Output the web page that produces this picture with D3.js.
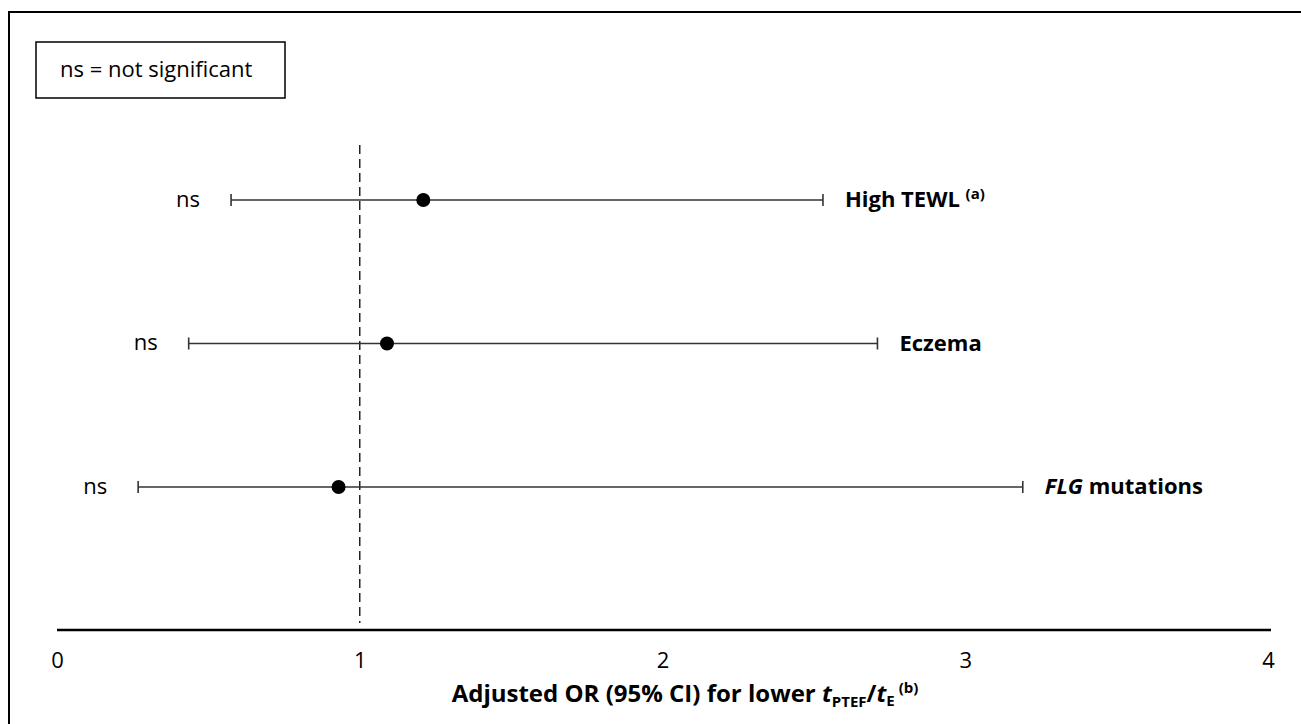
<!DOCTYPE html>
<html>
<head>
<meta charset="utf-8">
<script src="https://cdn.jsdelivr.net/npm/d3@7"></script>
<style>
  body { margin: 0; background: #fff; }
  text { font-family: "Open Sans", sans-serif; fill: #000; }
</style>
</head>
<body>
<script>
// forest plot values
const outcomes = ["High TEWL", "Eczema", "FLG mutations"];
const oddsRatio = [1.21, 1.09, 0.93];
const ciLower = [0.575, 0.435, 0.268];
const ciUpper = [2.53, 2.71, 3.19];
const sigLabels = ["ns", "ns", "ns"];
const tickValues = [0, 1, 2, 3, 4];

const W = 1301, H = 724;

const svg = d3.select("body").append("svg")
  .attr("width", W)
  .attr("height", H);

// outer frame (only top and left sides are in view)
svg.append("path")
  .attr("d", "M9," + H + "V12H" + W)
  .attr("fill", "none")
  .attr("stroke", "#000")
  .attr("stroke-width", 2);

const x = d3.scaleLinear().domain([0, 4]).range([57, 1268]);
const y = d3.scalePoint().domain(outcomes).range([200, 487]);

// x axis
const axis = svg.append("g")
  .attr("transform", "translate(0,630)")
  .call(d3.axisBottom(x).tickValues(tickValues).tickFormat(d3.format("d"))
    .tickSize(0).tickSizeOuter(0).tickPadding(22));
axis.select(".domain").attr("stroke", "#000").attr("stroke-width", 2.5)
  .attr("d", "M" + x(0) + ",0H" + (x(4) + 3));
axis.selectAll("text")
  .attr("font-family", "Open Sans, sans-serif")
  .attr("font-size", 22)
  .attr("fill", "#000");

// reference line at OR = 1
svg.append("line")
  .attr("x1", x(1)).attr("x2", x(1))
  .attr("y1", 145).attr("y2", 623)
  .attr("stroke", "#222")
  .attr("stroke-width", 1.5)
  .attr("stroke-dasharray", "9,5");

const rows = svg.selectAll("g.row")
  .data(outcomes.map((d, i) => ({ name: d, or: oddsRatio[i], lo: ciLower[i], hi: ciUpper[i], sig: sigLabels[i] })))
  .enter().append("g")
  .attr("class", "row")
  .attr("transform", d => "translate(0," + y(d.name) + ")");

// CI line
rows.append("line")
  .attr("x1", d => x(d.lo)).attr("x2", d => x(d.hi))
  .attr("stroke", "#333").attr("stroke-width", 1.6);

// whisker caps
rows.append("line")
  .attr("x1", d => x(d.lo)).attr("x2", d => x(d.lo))
  .attr("y1", -6).attr("y2", 6)
  .attr("stroke", "#333").attr("stroke-width", 1.6);
rows.append("line")
  .attr("x1", d => x(d.hi)).attr("x2", d => x(d.hi))
  .attr("y1", -6).attr("y2", 6)
  .attr("stroke", "#333").attr("stroke-width", 1.6);

// point estimates
rows.append("circle")
  .attr("cx", d => x(d.or))
  .attr("r", 7)
  .attr("fill", "#000");

// significance text
rows.append("text")
  .attr("x", d => x(d.lo) - 31)
  .attr("dy", "0.3em")
  .attr("text-anchor", "end")
  .attr("font-size", 22)
  .text(d => d.sig);

// outcome labels
const lab = rows.append("text")
  .attr("x", d => x(d.hi) + 22)
  .attr("dy", "0.33em")
  .attr("font-size", 22)
  .attr("font-weight", "bold");

lab.each(function (d) {
  const t = d3.select(this);
  if (d.name === "High TEWL") {
    t.append("tspan").text("High TEWL ");
    t.append("tspan").attr("font-size", 15).attr("dy", "-0.55em").text("(a)");
  } else if (d.name === "FLG mutations") {
    t.append("tspan").attr("font-style", "italic").text("FLG");
    t.append("tspan").text(" mutations");
  } else {
    t.text(d.name);
  }
});

// legend box
svg.append("rect")
  .attr("x", 36).attr("y", 42)
  .attr("width", 249).attr("height", 56)
  .attr("fill", "#fff")
  .attr("stroke", "#000")
  .attr("stroke-width", 1.5);
svg.append("text")
  .attr("x", 60).attr("y", 70)
  .attr("dy", "0.33em")
  .attr("font-size", 22)
  .text("ns = not significant");

// axis title
const title = svg.append("text")
  .attr("x", 685).attr("y", 702)
  .attr("text-anchor", "middle")
  .attr("font-size", 24)
  .attr("font-weight", "bold");
title.append("tspan").text("Adjusted OR (95% CI) for lower ");
title.append("tspan").attr("font-style", "italic").text("t");
title.append("tspan").attr("font-size", 15).attr("dy", "0.3em").text("PTEF");
title.append("tspan").attr("font-size", 24).attr("dy", "-0.19em").text("/");
title.append("tspan").attr("font-style", "italic").text("t");
title.append("tspan").attr("font-size", 15).attr("dy", "0.3em").text("E");
title.append("tspan").attr("font-size", 15).attr("dy", "-0.9em").text(" (b)");
</script>
</body>
</html>
